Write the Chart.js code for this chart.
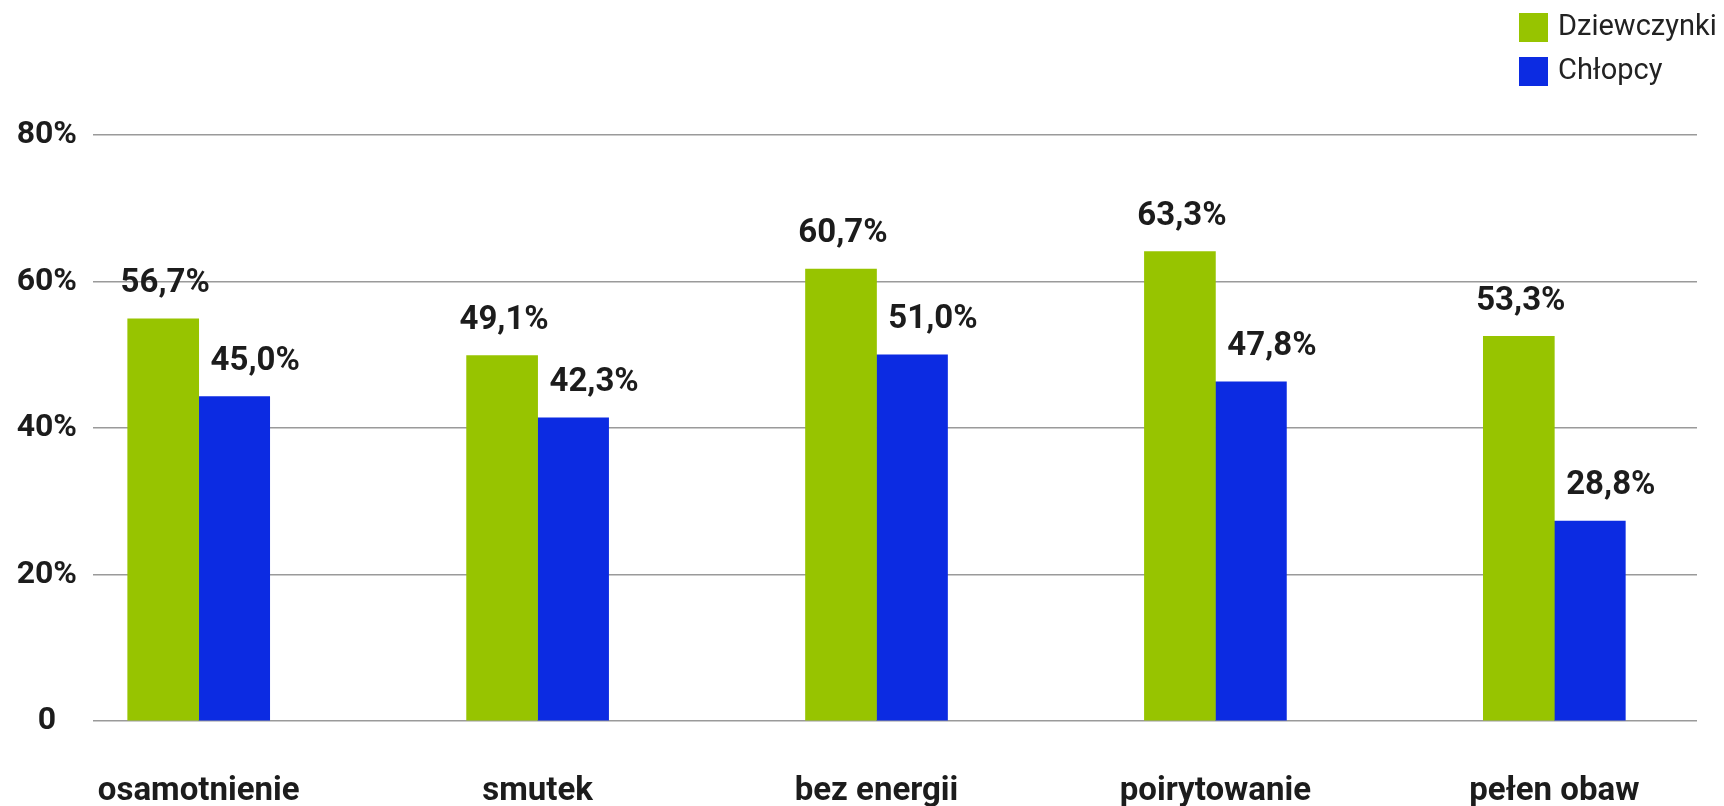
<!DOCTYPE html>
<html>
<head>
<meta charset="utf-8">
<script src="https://cdn.jsdelivr.net/npm/chart.js@4"></script>
<style>
  html, body { margin: 0; padding: 0; background: #ffffff; }
  #wrap { width: 1724px; height: 806px; position: relative; }
</style>
</head>
<body>
<div id="wrap"><canvas id="c"></canvas></div>
<script>
// ---- data ----
const categories = ['osamotnienie', 'smutek', 'bez energii', 'poirytowanie', 'pełen obaw'];
const seriesNames = ['Dziewczynki', 'Chłopcy'];
// bar heights as drawn in the picture (%)
const girlsBar = [54.9, 49.9, 61.7, 64.1, 52.5];
const boysBar  = [44.3, 41.4, 50.0, 46.3, 27.3];
// values printed above the bars (%)
const girlsLabel = [56.7, 49.1, 60.7, 63.3, 53.3];
const boysLabel  = [45.0, 42.3, 51.0, 47.8, 28.8];
// y axis ticks
const yTicks = [0, 20, 40, 60, 80];

// ---- styles ----
const GREEN = '#97c400';
const BLUE = '#0c2be2';
const TEXT = '#1c1c1c';
const FONT = 'Roboto, "Noto Sans", sans-serif';

function fmtPct(v) { return v.toFixed(1).replace('.', ',') + '%'; }

const labelSets = [girlsLabel, boysLabel];
const labelShift = [2, 21];

const valueLabels = {
  id: 'valueLabels',
  afterDatasetsDraw(chart) {
    const ctx = chart.ctx;
    ctx.save();
    ctx.font = 'bold 33px ' + FONT;
    ctx.fillStyle = TEXT;
    ctx.textAlign = 'center';
    ctx.textBaseline = 'middle';
    chart.data.datasets.forEach((ds, di) => {
      const meta = chart.getDatasetMeta(di);
      meta.data.forEach((bar, i) => {
        ctx.fillText(fmtPct(labelSets[di][i]), bar.x + labelShift[di], bar.y - 35);
      });
    });
    ctx.restore();
  }
};

const sideLegend = {
  id: 'sideLegend',
  afterDraw(chart) {
    const ctx = chart.ctx;
    ctx.save();
    ctx.font = '29px ' + FONT;
    ctx.textAlign = 'left';
    ctx.textBaseline = 'middle';
    chart.data.datasets.forEach((ds, di) => {
      const y = 13 + di * 44;
      ctx.fillStyle = ds.backgroundColor;
      ctx.fillRect(1519, y, 29, 29);
      ctx.fillStyle = '#222222';
      ctx.fillText(ds.label, 1558, y + 15);
    });
    ctx.restore();
  }
};

const toPoints = arr => arr.map((v, i) => ({ x: i, y: v }));

new Chart(document.getElementById('c'), {
  type: 'bar',
  data: {
    datasets: [
      { label: seriesNames[0], data: toPoints(girlsBar), backgroundColor: GREEN, borderWidth: 0 },
      { label: seriesNames[1], data: toPoints(boysBar), backgroundColor: BLUE, borderWidth: 0 }
    ]
  },
  options: {
    responsive: true,
    maintainAspectRatio: false,
    animation: false,
    layout: { padding: { top: 135, right: 27, left: 0, bottom: 0 } },
    plugins: {
      legend: { display: false },
      tooltip: { enabled: false }
    },
    datasets: { bar: { barThickness: 71 } },
    scales: {
      x: {
        type: 'linear',
        offset: false,
        min: -0.3119,
        max: 4.421,
        grid: { display: false, drawTicks: false, offset: false },
        border: { display: false },
        afterBuildTicks: s => { s.ticks = categories.map((c, i) => ({ value: i })); },
        afterFit: s => { s.height = 85; },
        ticks: {
          autoSkip: false,
          maxRotation: 0,
          padding: 51,
          color: TEXT,
          font: { family: FONT, size: 33, weight: 'bold' },
          callback: v => categories[v]
        }
      },
      y: {
        min: 0,
        max: 80,
        afterBuildTicks: s => { s.ticks = yTicks.map(v => ({ value: v })); },
        afterFit: s => { s.width = 93; },
        grid: { color: '#9a9a9a', lineWidth: 1.5, drawTicks: false },
        border: { display: false },
        ticks: {
          crossAlign: 'center',
          padding: 16,
          color: TEXT,
          font: { family: FONT, size: 32, weight: 'bold' },
          callback: v => v === 0 ? '0' : v + '%'
        }
      }
    }
  },
  plugins: [valueLabels, sideLegend]
});
</script>
</body>
</html>
